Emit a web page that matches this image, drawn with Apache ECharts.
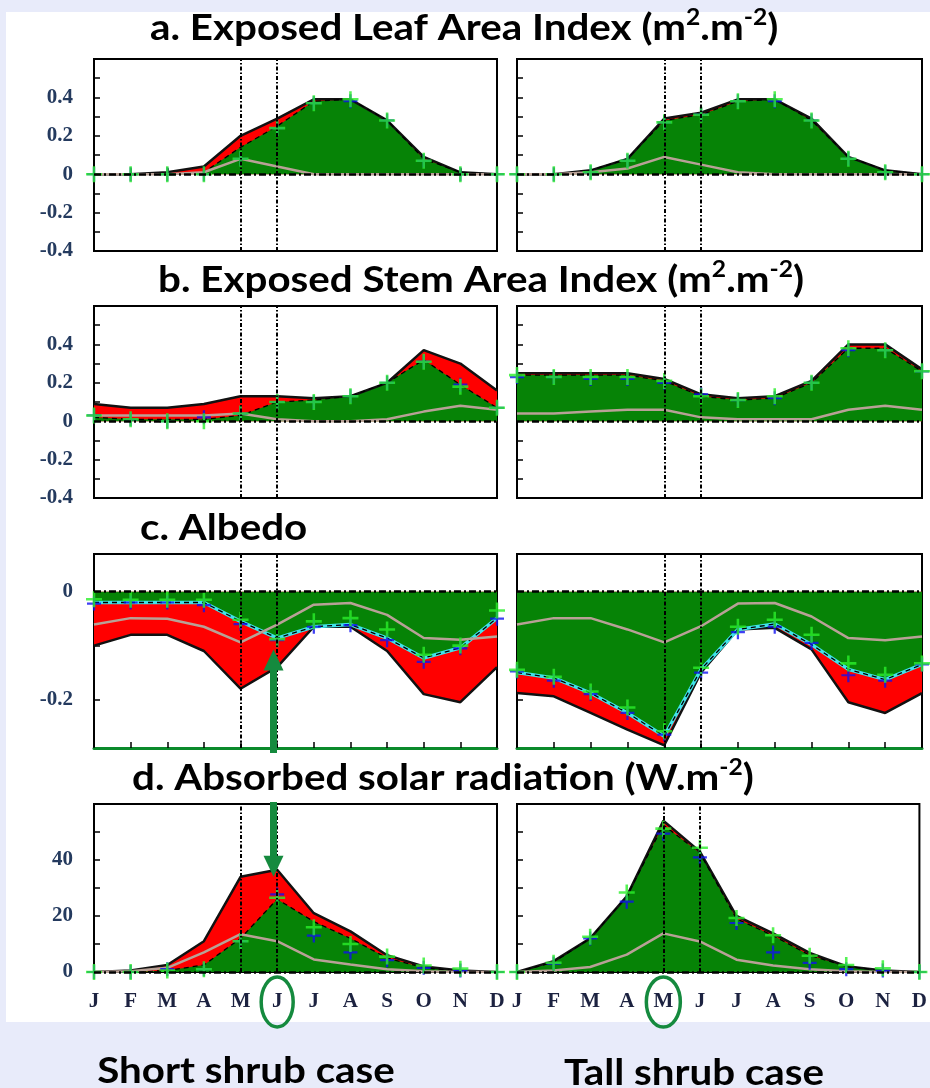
<!DOCTYPE html>
<html>
<head>
<meta charset="utf-8">
<title>Short vs tall shrub case</title>
<script src="https://cdn.jsdelivr.net/npm/echarts@6/dist/echarts.min.js"></script>
<style>
html, body { margin: 0; padding: 0; background: #e8ebfa; }
#sheet { position: absolute; left: 6px; top: 12px; width: 924px; height: 1010px; background: #fff; }
#box { position: absolute; left: 0; top: 0; width: 930px; height: 1088px; }
</style>
</head>
<body>
<div id="sheet"></div>
<div id="box"></div>
<script>
var months = ['J', 'F', 'M', 'A', 'M', 'J', 'J', 'A', 'S', 'O', 'N', 'D'];
var markMonths = [4, 5];

// a. exposed leaf area index
var laiShortEnv   = [0, 0, 0.01, 0.04, 0.2, 0.29, 0.39, 0.39, 0.28, 0.09, 0.01, 0];
var laiShortGreen = [0, 0, 0, 0.01, 0.14, 0.25, 0.38, 0.39, 0.28, 0.08, 0.01, 0];
var laiShortTan   = [0, 0, 0, 0.01, 0.08, 0.04, 0, 0, 0, 0, 0, 0];
var laiShortPlusG = [0, 0, 0, 0, 0.08, 0.24, 0.37, 0.39, 0.28, 0.07, 0, 0];
var laiShortPlusB = [0, 0, 0, 0, 0.08, 0.24, 0.37, 0.38, 0.28, 0.07, 0, 0];

var laiTallEnv   = [0, 0, 0.02, 0.08, 0.29, 0.32, 0.39, 0.39, 0.29, 0.09, 0.02, 0];
var laiTallGreen = [0, 0, 0.02, 0.08, 0.28, 0.31, 0.38, 0.39, 0.28, 0.09, 0.02, 0];
var laiTallTan   = [0, 0, 0.01, 0.03, 0.09, 0.05, 0.01, 0, 0, 0, 0, 0];
var laiTallPlusG = [0, 0, 0.01, 0.07, 0.27, 0.31, 0.38, 0.39, 0.28, 0.08, 0.01, 0];
var laiTallPlusB = [0, 0, 0.01, 0.07, 0.27, 0.31, 0.38, 0.38, 0.28, 0.08, 0.01, 0];

// b. exposed stem area index
var saiShortEnv   = [0.09, 0.07, 0.07, 0.09, 0.13, 0.13, 0.12, 0.13, 0.2, 0.37, 0.3, 0.16];
var saiShortGreen = [0.02, 0.01, 0.01, 0.01, 0.03, 0.1, 0.11, 0.13, 0.2, 0.32, 0.19, 0.07];
var saiShortTan   = [0.03, 0.03, 0.03, 0.03, 0.04, 0.01, 0, 0, 0.01, 0.05, 0.08, 0.06];
var saiShortPlusG = [0.03, 0.01, 0, 0, 0.04, 0.1, 0.1, 0.13, 0.2, 0.31, 0.18, 0.07];
var saiShortPlusB = [0.03, 0.01, 0, 0.02, 0.04, 0.1, 0.1, 0.13, 0.2, 0.31, 0.19, 0.07];

var saiTallEnv   = [0.25, 0.25, 0.25, 0.25, 0.22, 0.14, 0.12, 0.13, 0.21, 0.4, 0.4, 0.27];
var saiTallGreen = [0.24, 0.24, 0.24, 0.24, 0.21, 0.13, 0.11, 0.12, 0.2, 0.38, 0.38, 0.26];
var saiTallTan   = [0.04, 0.04, 0.05, 0.06, 0.06, 0.02, 0.01, 0.01, 0.01, 0.06, 0.08, 0.06];
var saiTallPlusG = [0.24, 0.23, 0.23, 0.23, 0.21, 0.13, 0.11, 0.13, 0.2, 0.38, 0.37, 0.26];
var saiTallPlusB = [0.23, 0.23, 0.22, 0.22, 0.2, 0.14, 0.11, 0.12, 0.2, 0.37, 0.37, 0.26];

// c. albedo
var albShortEnv   = [-0.1, -0.08, -0.08, -0.11, -0.18, -0.14, -0.065, -0.065, -0.11, -0.19, -0.205, -0.14];
var albShortGreen = [-0.02, -0.02, -0.02, -0.02, -0.055, -0.086, -0.065, -0.061, -0.086, -0.123, -0.104, -0.049];
var albShortTan   = [-0.061, -0.049, -0.05, -0.065, -0.094, -0.061, -0.024, -0.021, -0.043, -0.086, -0.089, -0.083];
var albShortPlusG = [-0.014, -0.015, -0.015, -0.015, -0.052, -0.088, -0.055, -0.049, -0.07, -0.117, -0.1, -0.035];
var albShortPlusB = [-0.022, -0.02, -0.02, -0.025, -0.06, -0.09, -0.065, -0.062, -0.09, -0.13, -0.105, -0.05];

var albTallEnv   = [-0.188, -0.194, -0.225, -0.256, -0.285, -0.15, -0.07, -0.067, -0.107, -0.205, -0.225, -0.188];
var albTallGreen = [-0.15, -0.16, -0.188, -0.225, -0.268, -0.144, -0.07, -0.06, -0.098, -0.144, -0.163, -0.135];
var albTallTan   = [-0.061, -0.049, -0.049, -0.07, -0.094, -0.064, -0.022, -0.021, -0.046, -0.086, -0.09, -0.083];
var albTallPlusG = [-0.145, -0.158, -0.185, -0.215, -0.259, -0.141, -0.065, -0.052, -0.08, -0.133, -0.154, -0.133];
var albTallPlusB = [-0.148, -0.165, -0.19, -0.225, -0.265, -0.15, -0.075, -0.065, -0.095, -0.155, -0.165, -0.135];

// d. absorbed solar radiation
var swShortEnv   = [0, 0.5, 2.5, 11, 34, 36.5, 21, 14.5, 6, 2, 0.5, 0];
var swShortGreen = [0, 0, 0.5, 2.5, 12, 26, 18, 12, 5, 1.5, 0.3, 0];
var swShortTan   = [0, 0.3, 1.5, 7, 13.5, 11, 4.5, 2.7, 1, 0.3, 0, 0];
var swShortPlusG = [0, 0, 0.5, 1, 11, 26.5, 16, 10, 5.5, 2.3, 1.2, 0];
var swShortPlusB = [0, 0, 1, 1, 11, 27.7, 13, 7, 4.2, 1.5, 0.5, 0];

var swTallEnv   = [0, 3.9, 12, 27, 54, 43, 20, 13.8, 6.8, 2.1, 0.5, 0];
var swTallGreen = [0, 3.5, 12, 27, 52.5, 42.5, 19, 13, 6, 2, 0.5, 0];
var swTallTan   = [0, 0.5, 1.8, 6.2, 13.8, 10.9, 4.4, 2.3, 1, 0.3, 0, 0];
var swTallPlusG = [0, 3.3, 12.6, 28.4, 51.2, 44.4, 19.3, 13.1, 5.8, 2.5, 1.3, 0];
var swTallPlusB = [0, 3, 12, 25.1, 49.4, 40.9, 17.5, 7, 3.3, 1, 0.5, 0];

// y axis ticks / labels per row
var rowTicks  = [[-0.3, -0.2, -0.1, 0, 0.1, 0.2, 0.3, 0.4, 0.5], [-0.3, -0.2, -0.1, 0, 0.1, 0.2, 0.3, 0.4, 0.5], [-0.2, -0.1, 0], [10, 20, 30, 40, 50]];
var rowLabels = [[-0.4, -0.2, 0, 0.2, 0.4], [-0.4, -0.2, 0, 0.2, 0.4], [-0.2, 0], [0, 20, 40]];
var rowMin = [-0.4, -0.4, -0.29, 0];
var rowMax = [0.6, 0.6, 0.07, 60];

// annotation arrows (month position, tip value)
var arrowMonth = 4.9;
var arrowUpTip = -0.107;
var arrowDownTip = 34;

var PLUS = 'path://M4.2,0H5.8V4.2H10V5.8H5.8V10H4.2V5.8H0V4.2H4.2Z';
var RED = '#ff0000', GREEN = '#068306', TAN = '#b8a196';

var chart = echarts.init(document.getElementById('box'));

function pts(arr) {
	return arr.map(function (v, i) { return [i, v]; });
}

function panel(g, env, green, tan, plusG, plusB, cyan) {
	var base = { type: 'line', xAxisIndex: g, yAxisIndex: g, symbol: 'none', silent: true };
	var s = [];
	s.push(Object.assign({}, base, { data: pts(env), lineStyle: { width: 0 }, areaStyle: { color: RED, opacity: 1 } }));
	s.push(Object.assign({}, base, { data: pts(green), lineStyle: { width: 0 }, areaStyle: { color: GREEN, opacity: 1 } }));
	s.push(Object.assign({}, base, { data: pts(env), lineStyle: { color: '#111', width: 2.5 } }));
	if (cyan) {
		s.push(Object.assign({}, base, { data: pts(green), lineStyle: { color: '#3fe3ea', width: 3.5 } }));
	}
	s.push(Object.assign({}, base, { data: pts(green), lineStyle: { color: '#000', width: 1.3, type: [5, 4] } }));
	s.push(Object.assign({}, base, { data: pts(tan), lineStyle: { color: TAN, width: 2.5 } }));
	// crosses sit above every polyline
	s.push({ type: 'scatter', z: 3, xAxisIndex: g, yAxisIndex: g, data: pts(plusB), symbol: PLUS, symbolSize: 14, itemStyle: { color: '#1010f0' }, silent: true });
	var marks = [{ yAxis: 0, lineStyle: { color: '#000', width: 2.5, type: [7, 3, 2, 3] } }];
	markMonths.forEach(function (m) {
		marks.push({ xAxis: m, lineStyle: { color: '#000', width: 2, type: [4, 2, 1.5, 2] } });
	});
	s.push({
		type: 'scatter', z: 3, xAxisIndex: g, yAxisIndex: g, data: pts(plusG), symbol: PLUS, symbolSize: 16,
		itemStyle: { color: '#2bef2b' }, silent: true,
		markLine: { silent: true, symbol: ['none', 'none'], label: { show: false }, data: marks }
	});
	return s;
}

var grids = [], xAxes = [], yAxes = [];
var rowTop = [59, 306, 554, 804];
var rowHeight = [192, 192, 194, 168];
for (var r = 0; r < 4; r++) {
	for (var c = 0; c < 2; c++) {
		var g = r * 2 + c;
		grids.push({
			left: c === 0 ? 94 : 517, width: c === 0 ? 403 : 405,
			top: rowTop[r], height: rowHeight[r],
			show: true, backgroundColor: '#fff', borderColor: '#000', borderWidth: 2
		});
		xAxes.push({
			type: 'value', gridIndex: g, min: 0, max: 11, interval: 1,
			axisLine: r === 2 ? { show: true, onZero: false, lineStyle: { color: '#0b8a2b', width: 3 } } : { show: false },
			axisTick: { show: r < 3, inside: true, length: 6, lineStyle: { color: '#000', width: 1.5 } },
			axisLabel: {
				show: r === 3, showMinLabel: true, showMaxLabel: true, margin: 19,
				fontFamily: 'Liberation Serif', fontWeight: 'bold', fontSize: 21, color: '#1c2240',
				formatter: function (v) { return months[v]; }
			},
			splitLine: { show: false }
		});
		yAxes.push({
			type: 'value', gridIndex: g, min: rowMin[r], max: rowMax[r],
			axisLine: { show: false },
			axisTick: { inside: true, length: 6, customValues: rowTicks[r], lineStyle: { color: '#000', width: 1.5 } },
			axisLabel: {
				show: c === 0, customValues: rowLabels[r], margin: 21,
				fontFamily: 'Liberation Serif', fontWeight: 'bold', fontSize: 21, color: '#243a5e'
			},
			splitLine: { show: false }
		});
	}
}

var series = [].concat(
	panel(0, laiShortEnv, laiShortGreen, laiShortTan, laiShortPlusG, laiShortPlusB),
	panel(1, laiTallEnv, laiTallGreen, laiTallTan, laiTallPlusG, laiTallPlusB),
	panel(2, saiShortEnv, saiShortGreen, saiShortTan, saiShortPlusG, saiShortPlusB),
	panel(3, saiTallEnv, saiTallGreen, saiTallTan, saiTallPlusG, saiTallPlusB),
	panel(4, albShortEnv, albShortGreen, albShortTan, albShortPlusG, albShortPlusB, true),
	panel(5, albTallEnv, albTallGreen, albTallTan, albTallPlusG, albTallPlusB, true),
	panel(6, swShortEnv, swShortGreen, swShortTan, swShortPlusG, swShortPlusB),
	panel(7, swTallEnv, swTallGreen, swTallTan, swTallPlusG, swTallPlusB)
);

chart.setOption({
	animation: false,
	grid: grids,
	xAxis: xAxes,
	yAxis: yAxes,
	series: series
});

// titles and annotations
var FONT = 'Lato';
var STRETCH = 1.12;
function title(x, y, parts) {
	return {
		type: 'text', x: x, y: y, z: 100, scaleX: STRETCH,
		style: {
			text: parts,
			textVerticalAlign: 'middle',
			rich: {
				t: { fontFamily: FONT, fontWeight: 'bold', fontSize: 36, lineHeight: 42, fill: '#000' },
				s: { fontFamily: FONT, fontWeight: 'bold', fontSize: 22, lineHeight: 26, verticalAlign: 'top', fill: '#000' }
			}
		}
	};
}
function caption(x, y, text) {
	return {
		type: 'text', x: x, y: y, z: 100, scaleX: STRETCH,
		style: { text: text, font: 'bold 36px Lato', fill: '#000', textAlign: 'center', textVerticalAlign: 'middle' }
	};
}
function band(y, h) {
	return { type: 'rect', z: 90, shape: { x: 6, y: y, width: 924, height: h }, style: { fill: '#fff' } };
}

var green = '#158a3e';
var up = chart.convertToPixel({ gridIndex: 4 }, [arrowMonth, arrowUpTip]);
var down = chart.convertToPixel({ gridIndex: 6 }, [arrowMonth, arrowDownTip]);
var ovalL = chart.convertToPixel({ gridIndex: 6 }, [5, 0]);
var ovalR = chart.convertToPixel({ gridIndex: 7 }, [4, 0]);

chart.setOption({
	graphic: [
		band(257, 46), band(505, 47), band(753, 49),
		title(150, 28, '{t|a. Exposed Leaf Area Index (m}{s|2}{t|.m}{s|-2}{t|)}'),
		title(158, 280, '{t|b. Exposed Stem Area Index (m}{s|2}{t|.m}{s|-2}{t|)}'),
		title(140, 528, '{t|c. Albedo}'),
		title(132, 778, '{t|d. Absorbed solar radiation (W.m}{s|-2}{t|)}'),
		caption(246, 1071, 'Short shrub case'),
		caption(694, 1073, 'Tall shrub case'),
		{ type: 'rect', z: 95, shape: { x: up[0] - 3.5, y: up[1] + 18, width: 7, height: 753 - up[1] - 18 }, style: { fill: green } },
		{ type: 'polygon', z: 95, shape: { points: [[up[0], up[1]], [up[0] - 10, up[1] + 21], [up[0] + 10, up[1] + 21]] }, style: { fill: green } },
		{ type: 'rect', z: 95, shape: { x: down[0] - 3.5, y: 802, width: 7, height: down[1] - 18 - 802 }, style: { fill: green } },
		{ type: 'polygon', z: 95, shape: { points: [[down[0], down[1]], [down[0] - 10, down[1] - 21], [down[0] + 10, down[1] - 21]] }, style: { fill: green } },
		{ type: 'ellipse', z: 95, shape: { cx: ovalL[0], cy: 1002, rx: 16, ry: 25 }, style: { fill: 'none', stroke: green, lineWidth: 3.5 } },
		{ type: 'ellipse', z: 95, shape: { cx: ovalR[0], cy: 1002, rx: 17, ry: 25 }, style: { fill: 'none', stroke: green, lineWidth: 3.5 } }
	]
});
</script>
</body>
</html>
